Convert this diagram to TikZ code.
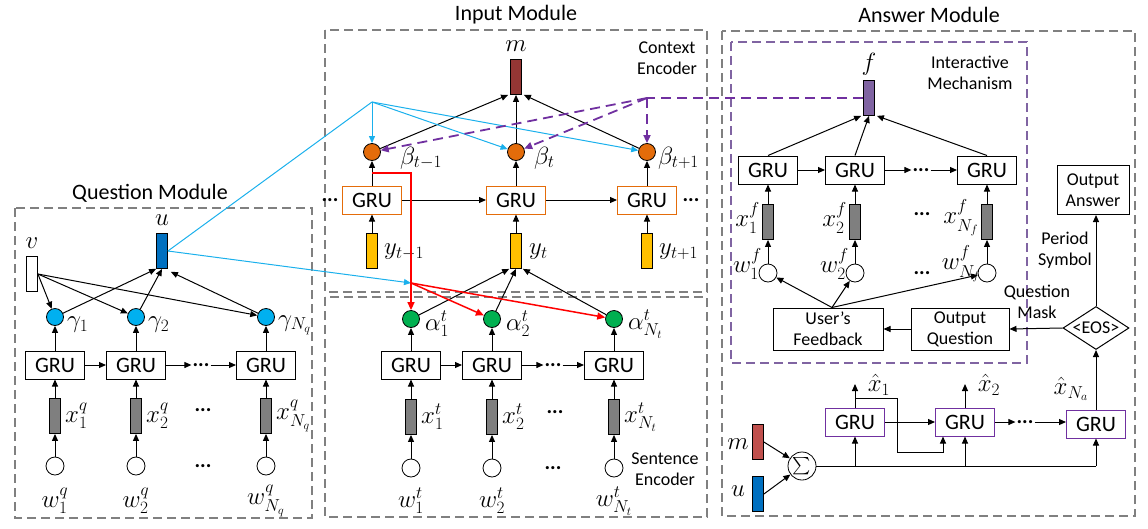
\documentclass[tikz,border=0pt]{standalone}
\usepackage{amsmath}
\usepackage{fontspec}
\setmainfont{Carlito}
\usetikzlibrary{arrows.meta,shapes.geometric,calc}
\definecolor{gblue}{HTML}{00B0F0}
\definecolor{lblue}{HTML}{1AB0EC}
\definecolor{borange}{HTML}{E46C0A}
\definecolor{agreen}{HTML}{00B050}
\definecolor{yyellow}{HTML}{FFC000}
\definecolor{mbrown}{HTML}{943634}
\definecolor{mred}{HTML}{C0504D}
\definecolor{ublue}{HTML}{0070C0}
\definecolor{fpurple}{HTML}{8064A2}
\definecolor{ppurple}{HTML}{7030A0}
\definecolor{xgray}{HTML}{7F7F7F}
\definecolor{mgray}{HTML}{808080}
\begin{document}
\begin{tikzpicture}[x=1pt,y=-1pt,
 arr/.style={-{Triangle[length=7pt,width=6pt]}, line width=1pt, draw=black},
 gru/.style={draw, line width=1pt, minimum width=59pt, minimum height=28pt, inner sep=0pt, font=\fontsize{22}{22}\selectfont},
 ogru/.style={gru, draw=borange},
 pgru/.style={gru, draw=ppurple},
 vec/.style={draw, line width=0.8pt, minimum width=11pt, minimum height=35pt, inner sep=0pt},
 att/.style={circle, draw, line width=0.8pt, minimum size=17pt, inner sep=0pt},
 wdot/.style={circle, draw, line width=0.8pt, minimum size=18pt, inner sep=0pt, fill=white},
 lab/.style={inner sep=0pt, font=\fontsize{26}{28}\selectfont},
 title/.style={inner sep=0pt, font=\fontsize{22}{24}\selectfont},
 note/.style={inner sep=0pt, align=center, font=\fontsize{18}{21}\selectfont},
 txtbox/.style={draw, line width=1pt, align=center, inner sep=0pt, font=\fontsize{18}{21}\selectfont},
 dotsn/.style={inner sep=1pt, font=\bfseries\fontsize{21}{21}\selectfont},
 module/.style={draw=mgray, line width=1.2pt, dash pattern=on 9pt off 5pt},
 pmodule/.style={draw=fpurple, line width=1.2pt, dash pattern=on 9pt off 5pt},
 bline/.style={draw=lblue, line width=1pt},
 barr/.style={bline, -{Triangle[length=7pt,width=6pt]}},
 rline/.style={draw=red, line width=1.5pt},
 rarr/.style={rline, -{Triangle[length=8pt,width=7pt]}},
 pdash/.style={draw=ppurple, line width=1.8pt, dash pattern=on 10pt off 6pt},
 parr/.style={pdash, -{Triangle[length=8pt,width=7pt]}},
]
\useasboundingbox (0,0) rectangle (1148,528);

% ---------- module frames ----------
\draw[module] (15,208) rectangle (312,518);
\node[title] (tq) at (150,193) {Question Module};
\draw[module] (325,30) rectangle (707,292);
\draw[module] (325,297) rectangle (707,517);
\node[title] (ti) at (516,15) {Input Module};
\draw[module] (722,31) rectangle (1135,516);
\node[title] (ta) at (929,15) {Answer Module};
\draw[pmodule] (731,42) rectangle (1027,363);

% ---------- Question module ----------
\node[vec, fill=ublue] (u) at (162,251) {};
\node[lab] (ul) at (162,220) {$u$};
\node[vec, fill=white] (v) at (32,274) {};
\node[lab] (vl) at (32,243) {$v$};
\foreach \n/\x/\s in {1/55/1, 2/136/2, 3/266/{N_q}} {
  \node[att, fill=gblue] (g\n) at (\x,317) {};
  \node[lab, anchor=west] (gl\n) at (\x+12,325) {$\gamma_{\s}$};
  \node[gru] (q\n) at (\x,365) {GRU};
  \node[vec, fill=xgray] (qx\n) at (\x,416) {};
  \node[lab, anchor=west] (qxl\n) at (\x+10,416) {$x_{\s}^{q}$};
  \node[wdot] (qw\n) at (\x,466) {};
  \node[lab] (qwl\n) at (\x,501) {$w_{\s}^{q}$};
  \draw[arr] (qw\n) -- (qx\n);
  \draw[arr] (qx\n) -- (q\n);
  \draw[arr] (q\n) -- (g\n);
  \draw[arr] (v.east) -- (g\n);
}
\node[dotsn] (qd) at (201,365) {...};
\node[dotsn] (qdx) at (203,410) {...};
\node[dotsn] (qdw) at (203,466) {...};
\draw[arr] (q1) -- (q2);
\draw[arr] (q2) -- (qd);
\draw[arr] (qd) -- (q3);
\draw[arr] (g1) -- (u.south west);
\draw[arr] (g2) -- (u.south);
\draw[arr] (g3) -- ([xshift=3pt,yshift=-3pt]u.south east);

% ---------- Input module: context encoder ----------
\node[vec, fill=mbrown] (m) at (516,77) {};
\node[lab] (ml) at (516,46) {$m$};
\node[note] (ce) at (667,58) {Context\\Encoder};
\foreach \n/\x in {1/372, 2/516, 3/647} {
  \node[att, fill=borange] (b\n) at (\x,152) {};
  \node[ogru] (c\n) at (\x,200) {GRU};
  \node[vec, fill=yyellow] (y\n) at (\x,251) {};
  \draw[arr] (y\n) -- (c\n);
  \draw[arr] (c\n) -- (b\n);
}
\node[lab, anchor=west] (bl1) at (400,158) {$\beta_{t-1}$};
\node[lab, anchor=west] (bl2) at (534,158) {$\beta_{t}$};
\node[lab, anchor=west] (bl3) at (658,158) {$\beta_{t+1}$};
\node[lab, anchor=west] (yl1) at (384,252) {$y_{t-1}$};
\node[lab, anchor=west] (yl2) at (529,252) {$y_{t}$};
\node[lab, anchor=west] (yl3) at (659,252) {$y_{t+1}$};
\node[dotsn] (cdl) at (330,200) {...};
\node[dotsn] (cdr) at (691,200) {...};
\draw[arr] (c1) -- (c2);
\draw[arr] (c2) -- (c3);
\draw[arr] (b1) -- ([xshift=-2pt]m.south west);
\draw[arr] (b2) -- (m.south);
\draw[arr] (b3) -- ([xshift=2pt]m.south east);

% ---------- Input module: sentence encoder ----------
\node[note] (se) at (665,469) {Sentence\\Encoder};
\foreach \n/\x/\s in {1/411/1, 2/492/2, 3/614/{N_t}} {
  \node[att, fill=agreen] (a\n) at (\x,319) {};
  \node[lab, anchor=west] (al\n) at (\x+14,324) {$\alpha_{\s}^{t}$};
  \node[gru] (s\n) at (\x,365) {GRU};
  \node[vec, fill=xgray] (sx\n) at (\x,417) {};
  \node[lab, anchor=west] (sxl\n) at (\x+10,417) {$x_{\s}^{t}$};
  \node[wdot] (sw\n) at (\x,468) {};
  \node[lab] (swl\n) at (\x,501) {$w_{\s}^{t}$};
  \draw[arr] (sw\n) -- (sx\n);
  \draw[arr] (sx\n) -- (s\n);
  \draw[arr] (s\n) -- (a\n);
}
\node[dotsn] (sd) at (553,365) {...};
\node[dotsn] (sdx) at (555,412) {...};
\node[dotsn] (sdw) at (553,468) {...};
\draw[arr] (s1) -- (s2);
\draw[arr] (s2) -- (sd);
\draw[arr] (sd) -- (s3);
\draw[arr] (a1) -- ([xshift=-1pt]y2.south west);
\draw[arr] (a2) -- (y2.south);
\draw[arr] (a3) -- ([xshift=1pt]y2.south east);

% ---------- cross-module links ----------
\coordinate (bp) at (372,102);
\coordinate (rp) at (411,283);
\coordinate (rs) at (372,173);
\draw[bline] (u.east) -- (bp);
\draw[barr] (bp) -- (b1);
\draw[barr] (bp) -- (b2);
\draw[barr] (bp) -- (b3);
\draw[barr] (u.east) -- (rp);
\draw[rline] (rs) -| (rp);
\draw[rarr] (rp) -- (a1);
\draw[rarr] (rp) -- (a2);
\draw[rarr] (rp) -- (a3);

% ---------- Answer module: interactive mechanism ----------
\node[vec, fill=fpurple] (f) at (869,98) {};
\node[lab] (fl) at (869,64) {$f$};
\node[note] (im) at (970,73) {Interactive\\Mechanism};
\foreach \n/\x/\s in {1/768/1, 2/855/2, 3/987/{N_f}} {
  \node[gru] (fg\n) at (\x,170) {GRU};
  \node[vec, fill=xgray] (fx\n) at (\x,222) {};
  \node[lab, anchor=east] (fxl\n) at (\x-8,218) {$x_{\s}^{f}$};
  \node[wdot] (fw\n) at (\x,273) {};
  \node[lab, anchor=east] (fwl\n) at (\x-6,264) {$w_{\s}^{f}$};
  \draw[arr] (fw\n) -- (fx\n);
  \draw[arr] (fx\n) -- (fg\n);
}
\node[dotsn] (fd) at (921,170) {...};
\node[dotsn] (fdx) at (922,214) {...};
\node[dotsn] (fdw) at (922,273) {...};
\draw[arr] (fg1) -- (fg2);
\draw[arr] (fg2) -- (fd);
\draw[arr] (fd) -- (fg3);
\draw[arr] (fg1.north) -- ([xshift=-2pt]f.south west);
\draw[arr] (fg2.north) -- (f.south);
\draw[arr] (fg3.north) -- ([xshift=2pt]f.south east);

\coordinate (pp) at (647,98);
\draw[pdash] (f.west) -- (pp);
\draw[parr] (pp) -- (b3);
\draw[parr] (pp) -- (b2);
\draw[parr] (pp) -- (b1);

\node[txtbox, minimum width=110pt, minimum height=42pt] (uf) at (828,329) {User’s\\Feedback};
\node[txtbox, minimum width=98pt, minimum height=42pt] (oq) at (960,329) {Output\\Question};
\node[txtbox, minimum width=72pt, minimum height=49pt] (oa) at (1093,190) {Output\\Answer};
\node[diamond, draw, line width=1pt, aspect=1.5, inner sep=0pt, minimum width=66pt, minimum height=43pt, font=\fontsize{18}{21}\selectfont] (eos) at (1096,328) {<EOS>};
\node[note] (ps) at (1065,250) {Period\\Symbol};
\node[note] (qm) at (1037,302) {Question\\Mask};
\draw[arr] (eos.north) -- (eos.north |- oa.south);
\draw[arr] (eos.west) -- (oq.east);
\draw[arr] (oq.west) -- (uf.east);
\coordinate (ufn) at ([xshift=4pt]uf.north);
\draw[arr] (ufn) -- (fw1);
\draw[arr] (ufn) -- (fw2);
\draw[arr] (ufn) -- (fw3);

% ---------- Answer module: decoder ----------
\node[vec, fill=mred] (m2) at (758,442) {};
\node[lab] (m2l) at (738,444) {$m$};
\node[vec, fill=ublue] (u2) at (758,494) {};
\node[lab] (u2l) at (738,491) {$u$};
\node[circle, draw, line width=0.8pt, minimum size=28pt, inner sep=0pt, font=\fontsize{17}{17}\selectfont] (sum) at (802,466) {$\sum$};
\draw[arr] (m2.east) -- (sum);
\draw[arr] (u2.east) -- (sum);
\node[pgru] (ag1) at (855,422) {GRU};
\node[pgru] (ag2) at (965,422) {GRU};
\node[pgru] (ag3) at (1096,424) {GRU};
\node[dotsn] (ad) at (1025,422) {...};
\draw[arr] (ag1) -- (ag2);
\draw[arr] (ag2) -- (ad);
\draw[arr] (ad) -- (ag3.west |- ad);
\coordinate (be) at (ag3.south |- sum.east);
\draw[line width=1pt] (sum.east) -- (be);
\draw[arr] (be) -- (ag3.south);
\draw[arr] (ag1.south |- sum.east) -- (ag1.south);
\draw[arr] (ag2.south |- sum.east) -- (ag2.south);
\coordinate (xh1) at (855,384);
\coordinate (xh2) at (965,384);
\draw[arr] (ag1.north) -- (xh1);
\draw[arr] (ag2.north) -- (xh2);
\draw[arr] (ag3.north) -- (eos.south);
\node[lab] (xhl1) at (879,385) {$\hat{x}_1$};
\node[lab] (xhl2) at (989,385) {$\hat{x}_2$};
\node[lab] (xhl3) at (1071,389) {$\hat{x}_{N_a}$};
\coordinate (k1) at (855,398);
\coordinate (k2) at (897,398);
\coordinate (k3) at (897,452);
\coordinate (k4) at ([xshift=-22pt]ag2.south);
\draw[arr] (k1) -- (k2) -- (k3) -| (k4);
\end{tikzpicture}
\end{document}
